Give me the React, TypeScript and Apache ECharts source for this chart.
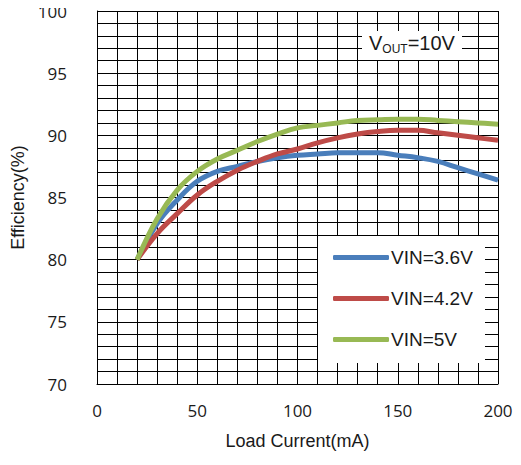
import React, { useEffect, useRef } from "react";
import * as echarts from "echarts";

const xValues = [20, 30, 40, 50, 60, 70, 80, 90, 100, 110, 120, 130, 140, 150, 160, 170, 180, 190, 200];
const vin36 = [80, 82.9, 84.8, 86.3, 87.1, 87.5, 87.9, 88.2, 88.4, 88.5, 88.6, 88.6, 88.6, 88.4, 88.2, 87.9, 87.4, 86.9, 86.4];
const vin42 = [80, 82.1, 83.7, 85.2, 86.3, 87.2, 87.9, 88.5, 88.9, 89.4, 89.8, 90.1, 90.3, 90.4, 90.4, 90.2, 90.0, 89.8, 89.6];
const vin5 = [80, 83.3, 85.6, 87.1, 88.1, 88.8, 89.5, 90.1, 90.6, 90.8, 91.0, 91.2, 91.25, 91.3, 91.3, 91.2, 91.1, 91.0, 90.9];
const seriesNames = ["VIN=3.6V", "VIN=4.2V", "VIN=5V"];
const seriesColors = ["#4a7ebb", "#be4b48", "#98b954"];

const narrow = '"Liberation Sans", Arial, sans-serif';
const tickFont = '"Open Sans", "Noto Sans", sans-serif';

export default function App() {
  const ref = useRef<HTMLDivElement>(null);
  useEffect(() => {
    if (!ref.current) return;
    const chart = echarts.init(ref.current, undefined, { renderer: "svg" });
    const all = [vin36, vin42, vin5];
    chart.setOption({
      animation: false,
      backgroundColor: "#ffffff",
      grid: { left: 97, right: 23, top: 11, bottom: 81 },
      xAxis: {
        type: "value",
        min: 0,
        max: 200,
        interval: 50,
        name: "Load Current(mA)",
        nameLocation: "middle",
        nameGap: 48,
        nameTextStyle: { fontFamily: narrow, fontSize: 18, color: "#1a1a1a" },
        axisLine: { show: true, lineStyle: { color: "#000", width: 1 } },
        axisTick: { show: false },
        axisLabel: { fontFamily: tickFont, fontSize: 17, color: "#1a1a1a", margin: 18 },
        splitLine: { show: true, lineStyle: { color: "#000", width: 1 } },
        minorSplitLine: { show: true, lineStyle: { color: "#000", width: 1 } },
        minorTick: { show: false, splitNumber: 5 },
      },
      yAxis: {
        type: "value",
        min: 70,
        max: 100,
        interval: 5,
        name: "Efficiency(%)",
        nameLocation: "middle",
        nameGap: 64,
        nameTextStyle: { fontFamily: narrow, fontSize: 18, color: "#1a1a1a" },
        axisLine: { show: true, lineStyle: { color: "#000", width: 1 } },
        axisTick: { show: false },
        axisLabel: { fontFamily: tickFont, fontSize: 17, color: "#1a1a1a", margin: 30 },
        splitLine: { show: true, lineStyle: { color: "#000", width: 1 } },
        minorSplitLine: { show: true, lineStyle: { color: "#000", width: 1 } },
        minorTick: { show: false, splitNumber: 5 },
      },
      legend: {
        orient: "vertical",
        left: 328,
        top: 243,
        itemWidth: 56,
        itemHeight: 5,
        itemGap: 22,
        icon: "roundRect",
        textStyle: { fontFamily: narrow, fontSize: 19, color: "#1a1a1a", padding: [0, 0, 0, -3] },
        data: seriesNames,
        z: 10,
      },
      graphic: [
        {
          type: "rect",
          shape: { x: 318, y: 236, width: 167, height: 127 },
          style: { fill: "#fff" },
          z: 5,
        },
        {
          type: "rect",
          shape: { x: 362, y: 31, width: 100, height: 29 },
          style: { fill: "#fff" },
          z: 5,
        },
        {
          type: "text",
          x: 369,
          y: 33,
          z: 6,
          style: {
            text: "{a|V}{b|OUT}{a|=10V}",
            rich: {
              a: { fontFamily: narrow, fontSize: 20, fill: "#1a1a1a", verticalAlign: "bottom" },
              b: { fontFamily: narrow, fontSize: 12, fill: "#1a1a1a", verticalAlign: "bottom", padding: [0, 0, -2, 0] },
            },
          },
        },
      ],
      series: all.map((vals, i) => ({
        name: seriesNames[i],
        type: "line",
        data: xValues.map((x, j) => [x, vals[j]]),
        smooth: 0.4,
        showSymbol: false,
        lineStyle: { color: seriesColors[i], width: 5 },
        itemStyle: { color: seriesColors[i] },
        z: 3,
      })),
    });
    return () => chart.dispose();
  }, []);
  return <div ref={ref} style={{ width: 521, height: 465, margin: -8 }} />;
}
